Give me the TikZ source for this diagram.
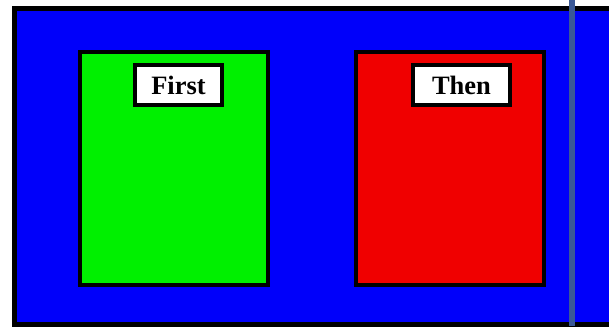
\documentclass[tikz,border=0pt]{standalone}
\usepackage{fontspec}
\setmainfont{Liberation Serif}
\definecolor{bg}{RGB}{0,0,250}
\definecolor{gfill}{RGB}{0,240,0}
\definecolor{rfill}{RGB}{240,0,0}
\definecolor{vline}{RGB}{58,88,150}
\begin{document}
\begin{tikzpicture}[x=1pt,y=1pt,
  panel/.style={draw=black,line width=4pt},
  tag/.style={draw=black,fill=white,line width=4pt,inner sep=0pt,minimum height=40pt,font=\fontsize{26.5}{26.5}\selectfont\bfseries}]
\useasboundingbox (0,0) rectangle (609,326);
\begin{scope}
\clip (0,0) rectangle (609,326);
\fill[white] (0,0) rectangle (609,326);
\draw[fill=bg,draw=black,line width=5pt] (14.5,317.5) rectangle (615,2);
\draw[panel,fill=gfill] (80,274) rectangle (268,41);
\draw[panel,fill=rfill] (356,274) rectangle (544,41);
\node[tag,minimum width=87pt] (first) at (178.5,241) {\raisebox{-1pt}{First}};
\node[tag,minimum width=97pt] (then) at (461.5,241) {\raisebox{-1pt}{Then}};
\fill[vline] (569,0) rectangle (575,326);
\end{scope}
\end{tikzpicture}
\end{document}
